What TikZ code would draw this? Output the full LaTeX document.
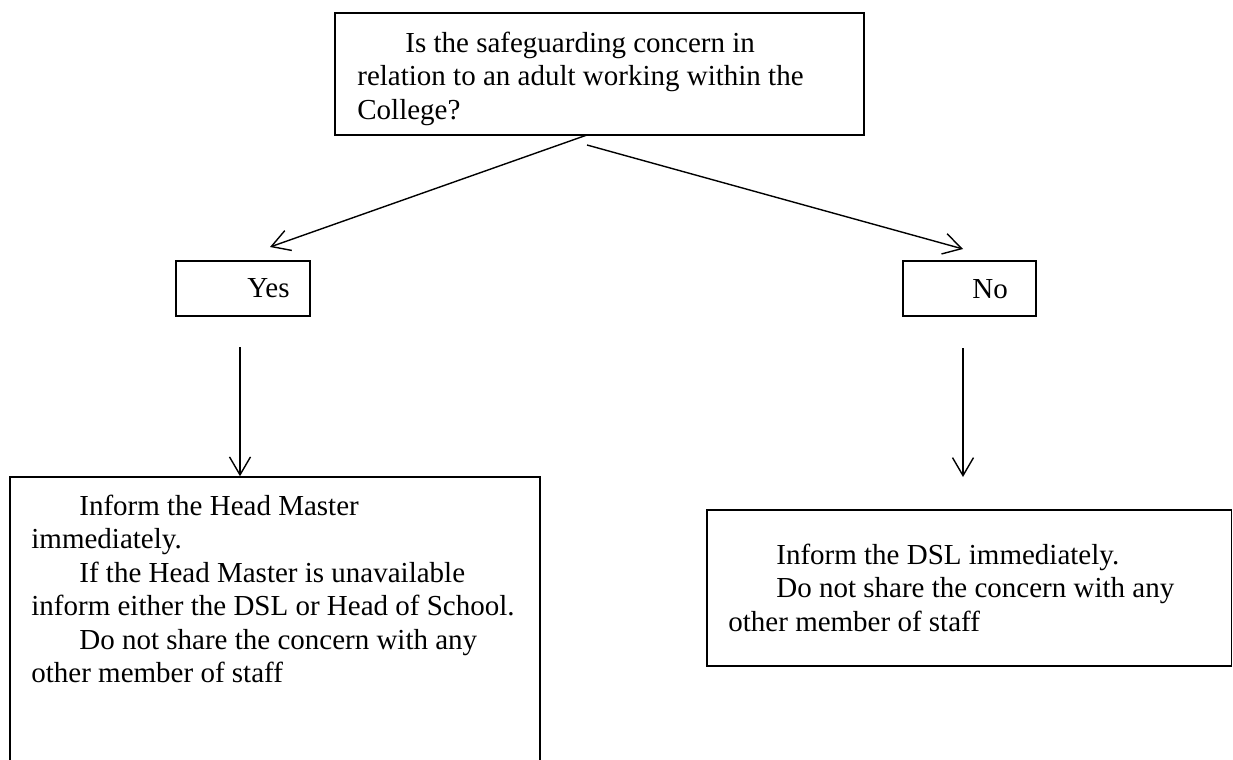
\documentclass[tikz,border=0pt]{standalone}
\usepackage{fontspec}
\setmainfont{Liberation Serif}
\usetikzlibrary{arrows.meta,positioning,calc,fit}

\tikzset{
  box/.style={draw, line width=0.75pt, inner sep=0pt},
  boxtext/.style={anchor=north west, align=left, inner sep=0pt,
    font=\fontsize{14.5}{16.75}\selectfont},
  arr/.style={line width=0.7pt,
    -{Straight Barb[length=9pt,width=10.5pt,line width=0.7pt]}},
}
\newcommand{\ind}{\hspace*{24pt}}

\begin{document}
\begin{tikzpicture}[x=0.5pt, y=-0.5pt]
	\useasboundingbox (0,0) rectangle (1233,760);
	% boxes
	\node[box, fit={(335,13) (864,135)}] (q) {};
	\node[box, fit={(176,261) (310,316)}] (yes) {};
	\node[box, fit={(903,261) (1036,316)}] (no) {};
	\node[box, fit={(10,477) (540,775)}] (yesact) {};
	\node[box, fit={(707,510) (1231.5,666)}] (noact) {};
	% texts
	\node[boxtext] (qtext) at (357,28.55) {\strut\ind Is the safeguarding concern in\\
		\strut relation to an adult working within the\\
		\strut College?};
	\node[boxtext] (yestext) at (247,273.55) {\strut Yes};
	\node[boxtext] (notext) at (972,274.55) {\strut No};
	\node[boxtext] (yesacttext) at (31,491.55) {\strut\ind Inform the Head Master\\
		\strut immediately.\\
		\strut\ind If the Head Master is unavailable\\
		\strut inform either the DSL or Head of School.\\
		\strut\ind Do not share the concern with any\\
		\strut other member of staff};
	\node[boxtext] (noacttext) at (728,540.55) {\strut\ind Inform the DSL immediately.\\
		\strut\ind Do not share the concern with any\\
		\strut other member of staff};
	% connectors
	\coordinate (q-l) at (587,135);
	\coordinate (q-r) at (587,145);
	\coordinate (yes-in) at (270,247);
	\coordinate (no-in) at (963,249);
	\coordinate (yes-out) at (240,347);
	\coordinate (no-out) at (963,348);
	\coordinate (noact-in) at (963,477);
	\draw[arr] (q-l) -- (yes-in);
	\draw[arr] (q-r) -- (no-in);
	\draw[arr] (yes-out) -- (yes-out |- yesact.north);
	\draw[arr] (no-out) -- (noact-in);
\end{tikzpicture}
\end{document}
